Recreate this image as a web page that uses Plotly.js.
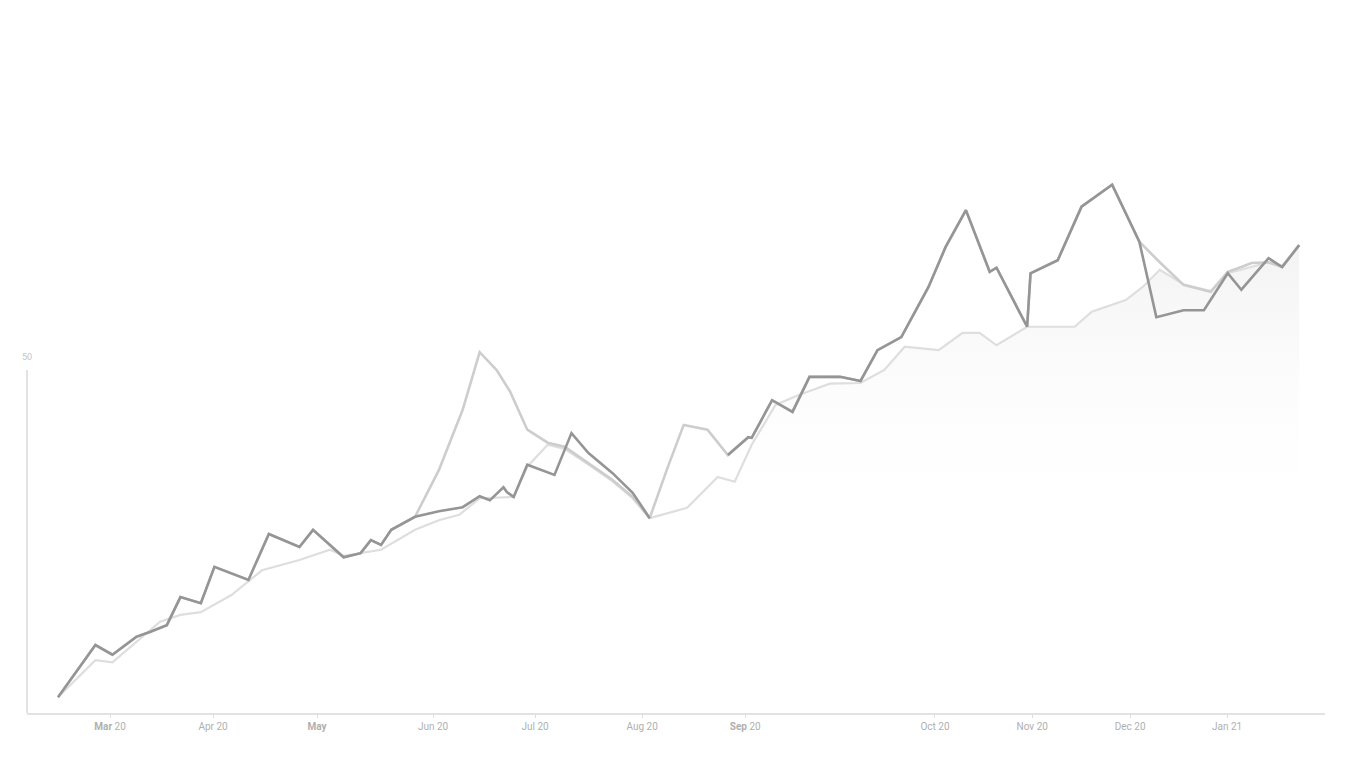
<!DOCTYPE html>
<html>
<head>
<meta charset="utf-8">
<script src="https://cdn.plot.ly/plotly-3.0.1.min.js"></script>
<style>
  html, body { margin: 0; padding: 0; background: #ffffff; }
  #chart { width: 1368px; height: 768px; }
</style>
</head>
<body>
<div id="chart"></div>
<script>
// ---- Data ----
// Main series (null = stretch where only the alternative series is drawn)
const mainDays = [0,11,16,23,27,32,36,42,46,56,62,71,75,84,89,92,95,98,105,112,119,124,127,131,132,134,138,146,151,156,163,169,174,185,197,203,204,210,216,221,230,236,241,248,256,261,267,274,276,285,286,294,301,310,318,323,331,337,344,348,356,360,365];
const mainValues = [2.3,9.9,8.5,11.1,11.8,12.8,16.9,16.0,21.3,19.4,26.1,24.2,26.7,22.7,23.3,25.2,24.5,26.7,28.6,29.4,30.0,31.6,31.0,32.9,32.2,31.5,36.2,34.7,40.8,37.9,35.0,32.1,28.4,null,37.6,40.2,40.1,45.6,43.9,49.0,49.0,48.4,52.9,54.8,62.1,67.9,73.3,64.3,64.9,56.3,64.1,66.0,73.8,77.0,68.7,57.7,58.7,58.7,64.1,61.7,66.3,65.0,68.2];

// Alternative series (diverges from main at a few stretches)
const altDays = [0,11,16,23,27,32,36,42,46,56,62,71,75,84,89,92,95,98,105,112,119,124,129,133,138,144,149,156,163,169,174,179,184,191,197,203,204,210,216,221,230,236,241,248,256,261,267,274,276,285,286,294,301,310,318,324,331,339,344,348,351,356,360,365];
const altValues = [2.3,9.9,8.5,11.1,11.8,12.8,16.9,16.0,21.3,19.4,26.1,24.2,26.7,22.7,23.3,25.2,24.5,26.7,28.6,35.4,44.2,52.6,50.0,46.8,41.3,39.4,38.8,36.4,34.0,31.5,28.4,35.4,42.0,41.3,37.6,40.2,40.1,45.6,43.9,49.0,49.0,48.4,52.9,54.8,62.1,67.9,73.3,64.3,64.9,56.3,64.1,66.0,73.8,77.0,68.7,65.7,62.4,61.4,64.3,65.0,65.6,65.7,65.0,68.2];

// Smoothed trend series
const trendDays = [0,11,16,23,30,36,42,51,60,71,80,84,95,105,112,118,124,134,138,144,149,156,163,169,174,185,194,199,204,211,218,227,236,243,249,259,266,271,276,285,299,304,314,319,324,331,339,344,356,360,365];
const trendValues = [2.3,7.7,7.4,10.3,13.3,14.3,14.7,17.2,20.8,22.3,23.8,22.9,23.8,26.7,28.1,28.9,31.3,31.5,35.9,39.1,38.5,36.2,33.8,31.3,28.4,29.9,34.4,33.7,39.1,44.9,46.4,48.0,48.1,50.0,53.4,52.9,55.4,55.4,53.6,56.3,56.3,58.5,60.2,62.1,64.6,62.5,61.5,64.1,65.7,65.2,68.2];

// Axis ticks
const tickDays = [15.3,45.6,76.2,110.3,140.3,171.8,202.1,257.9,286.5,315.3,343.8];
const tickLabels = ["<b>Mar</b> 20","Apr 20","<b>May</b>","Jun 20","Jul 20","Aug 20","<b>Sep</b> 20","Oct 20","Nov 20","Dec 20","Jan 21"];
const axisTopValue = 50;

// ---- Traces ----
const traces = [
  {
    x: trendDays, y: trendValues, type: 'scatter', mode: 'lines',
    line: { color: '#dedede', width: 2.2 },
    fill: 'tozeroy',
    fillgradient: {
      type: 'vertical',
      colorscale: [[0, 'rgba(255,255,255,0)'], [0.4, 'rgba(255,255,255,0)'], [0.75, 'rgba(238,238,238,0.25)'], [1, 'rgba(225,225,225,0.4)']]
    },
    hoverinfo: 'skip', showlegend: false
  },
  {
    x: altDays, y: altValues, type: 'scatter', mode: 'lines',
    line: { color: '#cdcdcd', width: 2.6 },
    showlegend: false
  },
  {
    x: mainDays, y: mainValues, type: 'scatter', mode: 'lines',
    connectgaps: false,
    line: { color: '#959595', width: 2.6 },
    showlegend: false
  }
];

const layout = {
  width: 1368, height: 768,
  paper_bgcolor: '#ffffff', plot_bgcolor: '#ffffff',
  margin: { l: 27, r: 43, t: 40, b: 55 },
  font: { family: 'Roboto, "DejaVu Sans", sans-serif', color: '#aaaaaa', size: 10 },
  showlegend: false,
  xaxis: {
    range: [-9.12, 372.6],
    showgrid: false, zeroline: false,
    showline: true, linecolor: '#e2e2e2', linewidth: 2,
    ticks: 'outside', ticklen: 3, tickcolor: '#dddddd',
    tickmode: 'array', tickvals: tickDays, ticktext: tickLabels,
    tickfont: { size: 10, color: '#b0b0b0' }
  },
  yaxis: {
    range: [0, 98.1],
    showgrid: false, zeroline: false, showline: false,
    showticklabels: false, ticks: ''
  },
  shapes: [
    { type: 'line', xref: 'paper', yref: 'y', x0: 0, x1: 0, y0: 0, y1: axisTopValue,
      line: { color: '#e2e2e2', width: 2 } }
  ],
  annotations: [
    { xref: 'paper', yref: 'y', x: 0, y: axisTopValue, text: String(axisTopValue),
      showarrow: false, yanchor: 'bottom', xanchor: 'center', yshift: 6,
      font: { size: 9, color: '#c4c4c4' } }
  ]
};

Plotly.newPlot('chart', traces, layout, { displayModeBar: false, staticPlot: true });
</script>
</body>
</html>
